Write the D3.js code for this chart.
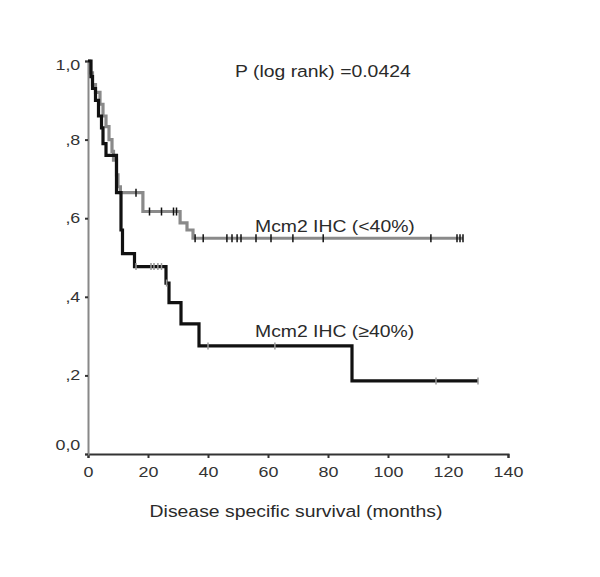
<!DOCTYPE html>
<html>
<head>
<meta charset="utf-8">
<script src="https://cdn.jsdelivr.net/npm/d3@7"></script>
<style>
  html, body { margin: 0; padding: 0; background: #fff; }
  svg { display: block; font-family: "Liberation Sans", Arial, sans-serif; }
</style>
</head>
<body>
<svg id="chart" width="600" height="577"></svg>
<script>
// ---- data ----
const lowTimes = [0, 0.5, 1.5, 2.5, 4, 5, 6, 7, 8, 8.5, 9.5, 10, 10.8, 18.3, 30.7, 33, 35];
const lowSurv  = [1.0, 0.97, 0.94, 0.92, 0.89, 0.86, 0.833, 0.80, 0.77, 0.748, 0.71, 0.68, 0.665, 0.617, 0.588, 0.57, 0.549];
const lowEnd = 125;
const lowCensor = [16, 20.5, 24.5, 28.5, 29.5, 35.7, 38.4, 46.3, 48, 49.7, 51, 56, 61, 68.3, 78.4, 114.3, 123, 124, 125];

const highTimes = [0, 1, 1.5, 2.5, 3.5, 4.5, 5, 6, 9.5, 11, 11.5, 15.5, 26, 27, 31, 37, 88];
const highSurv  = [1.0, 0.96, 0.93, 0.90, 0.86, 0.83, 0.79, 0.76, 0.665, 0.57, 0.51, 0.477, 0.435, 0.385, 0.331, 0.275, 0.186];
const highEnd = 130;
const highCensor = [16, 21, 22, 23.3, 24.5, 26.2, 40, 62.3, 116, 130];

const xTicks = [0, 20, 40, 60, 80, 100, 120, 140];
const yTicks = [0, 0.2, 0.4, 0.6, 0.8, 1.0];
const yTickLabels = ["0,0", ",2", ",4", ",6", ",8", "1,0"];

const pText = "P (log rank) =0.0424";
const lowLabel = "Mcm2 IHC (<40%)";
const highLabel = "Mcm2 IHC (\u226540%)";
const xTitle = "Disease specific survival (months)";

// ---- scales ----
const x = d3.scaleLinear().domain([0, 140]).range([88, 508]);
const y = d3.scaleLinear().domain([0, 1]).range([454, 61]);

const svg = d3.select("#chart");

// axes
const xAxis = d3.axisBottom(x).tickValues(xTicks).tickSize(4).tickPadding(9).tickFormat(d3.format("d"));
const gx = svg.append("g").attr("transform", `translate(0,${y(0)})`).call(xAxis);
gx.select(".domain").attr("stroke", "#333").attr("stroke-width", 2);
gx.selectAll(".tick line").attr("stroke", "#333").attr("stroke-width", 2);
gx.selectAll(".tick text")
  .attr("font-size", 14).attr("fill", "#333")
  .attr("font-family", "Liberation Sans, Arial, sans-serif")
  .attr("transform", "scale(1.28,1)");

const yAxis = d3.axisLeft(y).tickValues(yTicks).tickSize(3).tickPadding(3)
  .tickFormat((d, i) => yTickLabels[i]);
const gy = svg.append("g").attr("transform", `translate(${x(0)},0)`).call(yAxis);
gy.select(".domain").attr("stroke", "#888").attr("stroke-width", 2);
gy.selectAll(".tick line").attr("stroke", "#333").attr("stroke-width", 2);
gy.selectAll(".tick text")
  .attr("font-size", 14).attr("fill", "#333")
  .attr("font-family", "Liberation Sans, Arial, sans-serif")
  .attr("dy", (d) => d === 1 ? "0.62em" : (d === 0 ? "-0.3em" : "0.32em"))
  .attr("transform", "scale(1.28,1)");

// step paths
function stepPoints(times, surv, end) {
  const pts = times.map((t, i) => [t, surv[i]]);
  pts.push([end, surv[surv.length - 1]]);
  return pts;
}
function survAt(times, surv, t) {
  let s = surv[0];
  for (let i = 0; i < times.length; i++) if (times[i] <= t) s = surv[i];
  return s;
}
const line = d3.line().x(d => x(d[0])).y(d => y(d[1])).curve(d3.curveStepAfter);

svg.append("path").datum(stepPoints(lowTimes, lowSurv, lowEnd))
  .attr("d", line).attr("fill", "none").attr("stroke", "#8a8a8a").attr("stroke-width", 3.2);
svg.append("path").datum(stepPoints(highTimes, highSurv, highEnd))
  .attr("d", line).attr("fill", "none").attr("stroke", "#111").attr("stroke-width", 3.2);

// censor marks
svg.append("g").selectAll("line").data(lowCensor).join("line")
  .attr("x1", d => x(d)).attr("x2", d => x(d))
  .attr("y1", d => y(survAt(lowTimes, lowSurv, d)) - 4)
  .attr("y2", d => y(survAt(lowTimes, lowSurv, d)) + 4)
  .attr("stroke", "#111").attr("stroke-width", 1.5);
svg.append("g").selectAll("line").data(highCensor).join("line")
  .attr("x1", d => x(d)).attr("x2", d => x(d))
  .attr("y1", d => y(survAt(highTimes, highSurv, d)) - 3.5)
  .attr("y2", d => y(survAt(highTimes, highSurv, d)) + 3.5)
  .attr("stroke", "#999").attr("stroke-width", 1.5);

// texts
function stretched(tx, ty, str, size, sx, anchor) {
  svg.append("text")
    .attr("transform", `translate(${tx},${ty}) scale(${sx},1)`)
    .attr("font-size", size).attr("fill", "#2a2a2a")
    .attr("text-anchor", anchor || "start")
    .text(str);
}
stretched(235, 77, pText, 17, 1.14);
stretched(255, 232, lowLabel, 17, 1.14);
stretched(255, 337, highLabel, 17, 1.14);
stretched(296, 517, xTitle, 17, 1.14, "middle");
</script>
</body>
</html>
